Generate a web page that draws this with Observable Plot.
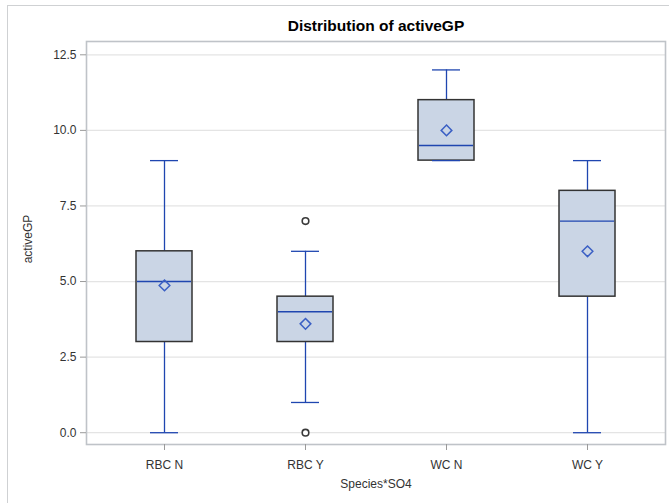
<!DOCTYPE html>
<html>
<head>
<meta charset="utf-8">
<script src="https://cdn.jsdelivr.net/npm/d3@7"></script>
<script src="https://cdn.jsdelivr.net/npm/@observablehq/plot@0.6"></script>
<style>
  html, body { margin: 0; padding: 0; background: #fff; }
  #wrap { position: relative; width: 669px; height: 503px; overflow: hidden; }
  #wrap svg { position: absolute; left: 0; top: 0; }
  #border {
    position: absolute; left: 7px; top: 5px; width: 700px; height: 520px;
    border-top: 1.5px solid #cfd1d3; border-left: 1.5px solid #cfd1d3;
    pointer-events: none;
  }
</style>
</head>
<body>
<div id="wrap"><div id="border"></div></div>
<script>
// Five-number summaries of activeGP for each Species*SO4 group
const categories = ["RBC N", "RBC Y", "WC N", "WC Y"];
const mins    = [0, 1, 9, 0];
const q1s     = [3, 3, 9, 4.5];
const medians = [5, 4, 9.5, 7];
const q3s     = [6, 4.5, 11, 8];
const maxs    = [9, 6, 12, 9];
const means   = [4.87, 3.6, 10, 6];

// Points beyond the whiskers
const outlierGroups = ["RBC Y", "RBC Y"];
const outlierValues = [7, 0];

const yTicks = [0, 2.5, 5, 7.5, 10, 12.5];
const titleText = "Distribution of activeGP";
const yLabel = "activeGP";
const xLabel = "Species*SO4";

const boxes = categories.map((c, i) => ({
  group: c, min: mins[i], q1: q1s[i], median: medians[i],
  q3: q3s[i], max: maxs[i], mean: means[i]
}));
const outliers = outlierGroups.map((g, i) => ({group: g, value: outlierValues[i]}));

const blue = "#1f46b0";
const capInset = 14;

const chart = Plot.plot({
  width: 669,
  height: 503,
  marginTop: 41,
  marginBottom: 59,
  marginLeft: 86,
  marginRight: 4,
  style: {fontFamily: "'Liberation Sans', Arial, sans-serif", fontSize: "12px", background: "transparent"},
  x: {type: "band", domain: categories, paddingInner: 0.6, paddingOuter: 0.34, label: null},
  y: {domain: [-0.39, 12.94], label: null},
  marks: [
    Plot.gridY(yTicks, {stroke: "#e4e4e4", strokeOpacity: 1, strokeWidth: 1.2}),
    Plot.frame({stroke: "#bfc3c8", strokeWidth: 1.6}),
    Plot.axisY(yTicks, {
      tickFormat: d3.format(".1f"), tickSize: 6, tickPadding: 4,
      stroke: "#9a9a9a", fill: "#333", label: null
    }),
    Plot.axisX({
      tickSize: 6, tickPadding: 10, stroke: "#9a9a9a", fill: "#333", label: null
    }),
    // axis titles
    Plot.text([yLabel], {frameAnchor: "left", dx: -58.5, dy: -4, rotate: -90, textAnchor: "middle", text: d => d, fill: "#333", fontSize: 12}),
    Plot.text([xLabel], {frameAnchor: "bottom", dy: 43, text: d => d, fill: "#333", fontSize: 12}),
    // whiskers
    Plot.ruleX(boxes, {x: "group", y1: "q3", y2: "max", stroke: blue, strokeWidth: 1.3}),
    Plot.ruleX(boxes, {x: "group", y1: "min", y2: "q1", stroke: blue, strokeWidth: 1.3}),
    // interquartile boxes
    Plot.barY(boxes, {x: "group", y1: "q1", y2: "q3", fill: "#cad5e5", stroke: "#333", strokeWidth: 1.5}),
    // whisker caps
    Plot.tickY(boxes, {x: "group", y: "max", stroke: blue, strokeWidth: 1.3, insetLeft: capInset, insetRight: capInset}),
    Plot.tickY(boxes, {x: "group", y: "min", stroke: blue, strokeWidth: 1.3, insetLeft: capInset, insetRight: capInset}),
    // medians
    Plot.tickY(boxes, {x: "group", y: "median", stroke: blue, strokeWidth: 1.4, insetLeft: 1, insetRight: 1}),
    // means
    Plot.dot(boxes, {x: "group", y: "mean", symbol: "diamond2", r: 4.8, stroke: "#3a5fc4", strokeWidth: 1.5, fill: "none"}),
    // outliers
    Plot.dot(outliers, {x: "group", y: "value", symbol: "circle", r: 3.3, stroke: "#3a3a3a", strokeWidth: 1.6, fill: "#fff"}),
    // title
    Plot.text([titleText], {frameAnchor: "top", dy: -15, text: d => d, fontWeight: "bold", fontSize: 15.5, fill: "#000", lineAnchor: "middle"})
  ]
});

document.getElementById("wrap").prepend(chart);
</script>
</body>
</html>
